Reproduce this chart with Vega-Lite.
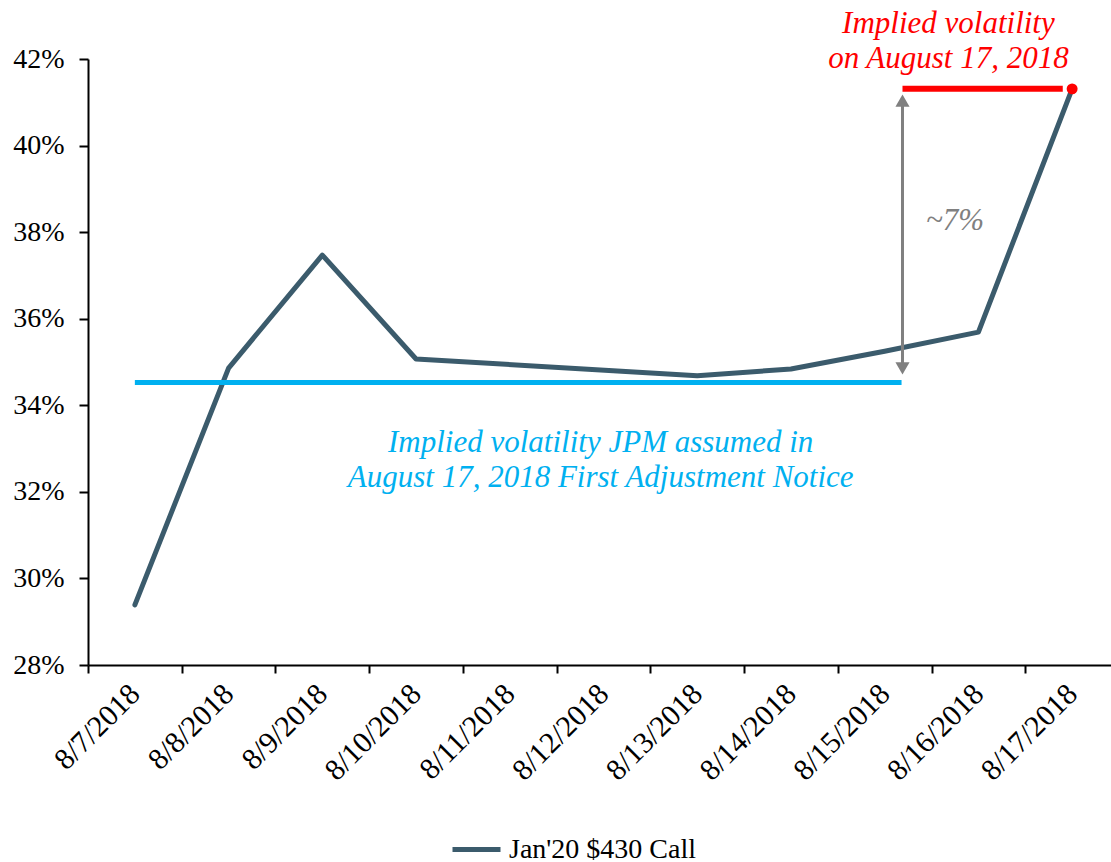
{
  "$schema": "https://vega.github.io/schema/vega-lite/v6.json",
  "width": 1031,
  "height": 606,
  "autosize": "none",
  "padding": {"left": 88, "top": 59, "right": 0, "bottom": 197},
  "background": "white",
  "config": {"font": "Liberation Serif", "view": {"stroke": null}},
  "datasets": {
    "main": [
      {"date": "8/7/2018", "iv": 0.2939, "series": "Jan'20 $430 Call"},
      {"date": "8/8/2018", "iv": 0.3486, "series": "Jan'20 $430 Call"},
      {"date": "8/9/2018", "iv": 0.3747, "series": "Jan'20 $430 Call"},
      {"date": "8/10/2018", "iv": 0.3507, "series": "Jan'20 $430 Call"},
      {"date": "8/13/2018", "iv": 0.3468, "series": "Jan'20 $430 Call"},
      {"date": "8/14/2018", "iv": 0.3484, "series": "Jan'20 $430 Call"},
      {"date": "8/15/2018", "iv": 0.3525, "series": "Jan'20 $430 Call"},
      {"date": "8/16/2018", "iv": 0.3569, "series": "Jan'20 $430 Call"},
      {"date": "8/17/2018", "iv": 0.4131, "series": "Jan'20 $430 Call"}
    ],
    "assumed": [{"x": 0.5, "x2": 8.68, "y": 0.34526}],
    "actual": [{"x": 8.69, "x2": 10.4, "y": 0.4131}],
    "arrow": [{"x": 8.69, "y": 0.3480, "y2": 0.4105}],
    "heads": [
      {"shape": "triangle-up", "x": 8.69, "y": 0.4104},
      {"shape": "triangle-down", "x": 8.69, "y": 0.3485}
    ],
    "dot": [{"x": 10.5, "y": 0.4131}],
    "labels": [
      {"text": "Implied volatility", "x": 9.18, "y": 0.4260, "group": "red"},
      {"text": "on August 17, 2018", "x": 9.18, "y": 0.4179, "group": "red"},
      {"text": "~7%", "x": 9.25, "y": 0.3805, "group": "gray"},
      {"text": "Implied volatility JPM assumed in", "x": 5.47, "y": 0.3292, "group": "cyan"},
      {"text": "August 17, 2018 First Adjustment Notice", "x": 5.47, "y": 0.3211, "group": "cyan"}
    ]
  },
  "layer": [
    {
      "data": {"name": "main"},
      "mark": {"type": "line", "strokeWidth": 5, "strokeCap": "round", "strokeJoin": "round"},
      "encoding": {
        "x": {
          "field": "date",
          "type": "ordinal",
          "sort": null,
          "bandPosition": 0.5,
          "scale": {
            "type": "band",
            "paddingInner": 0,
            "paddingOuter": 0,
            "domain": ["8/7/2018", "8/8/2018", "8/9/2018", "8/10/2018", "8/11/2018", "8/12/2018", "8/13/2018", "8/14/2018", "8/15/2018", "8/16/2018", "8/17/2018"]
          },
          "axis": {
            "title": null,
            "tickBand": "extent",
            "labelAngle": -45,
            "labelAlign": "right",
            "labelBaseline": "middle",
            "labelFontSize": 30,
            "labelColor": "black",
            "labelPadding": 16,
            "labelFont": "Liberation Serif",
            "labelOverlap": false,
            "labelLimit": 0,
            "tickSize": 8,
            "tickWidth": 2,
            "tickColor": "black",
            "domainColor": "black",
            "domainWidth": 2,
            "grid": false
          }
        },
        "y": {
          "field": "iv",
          "type": "quantitative",
          "scale": {"domain": [0.28, 0.42], "nice": false, "zero": false},
          "axis": {
            "title": null,
            "values": [0.28, 0.30, 0.32, 0.34, 0.36, 0.38, 0.40, 0.42],
            "format": ".0%",
            "labelFontSize": 28,
            "labelColor": "black",
            "labelFont": "Liberation Serif",
            "labelPadding": 15,
            "tickSize": 9,
            "tickWidth": 2,
            "tickColor": "black",
            "domainColor": "black",
            "domainWidth": 2,
            "grid": false
          }
        },
        "color": {
          "field": "series",
          "type": "nominal",
          "scale": {"range": ["#3B5B6C"]},
          "legend": {
            "title": null,
            "orient": "none",
            "legendX": 362,
            "legendY": 764,
            "symbolType": "stroke",
            "symbolSize": 2304,
            "symbolStrokeWidth": 5,
            "labelFontSize": 28,
            "labelFont": "Liberation Serif",
            "labelColor": "black",
            "labelOffset": 6,
            "labelLimit": 0
          }
        }
      }
    },
    {
      "data": {"name": "assumed"},
      "mark": {"type": "rule", "color": "#00B0F0", "strokeWidth": 5},
      "encoding": {
        "x": {"field": "x", "type": "quantitative", "scale": {"domain": [0, 11], "nice": false, "zero": false}, "axis": null},
        "x2": {"field": "x2"},
        "y": {"field": "y", "type": "quantitative"}
      }
    },
    {
      "data": {"name": "arrow"},
      "mark": {"type": "rule", "color": "#808080", "strokeWidth": 3},
      "encoding": {
        "x": {"field": "x", "type": "quantitative", "scale": {"domain": [0, 11], "nice": false, "zero": false}, "axis": null},
        "y": {"field": "y", "type": "quantitative"},
        "y2": {"field": "y2"}
      }
    },
    {
      "data": {"name": "heads"},
      "mark": {"type": "point", "filled": true, "size": 200, "color": "#808080", "opacity": 1},
      "encoding": {
        "x": {"field": "x", "type": "quantitative", "scale": {"domain": [0, 11], "nice": false, "zero": false}, "axis": null},
        "y": {"field": "y", "type": "quantitative"},
        "shape": {"field": "shape", "type": "nominal", "scale": null, "legend": null}
      }
    },
    {
      "data": {"name": "actual"},
      "mark": {"type": "rule", "color": "#FF0000", "strokeWidth": 6},
      "encoding": {
        "x": {"field": "x", "type": "quantitative", "scale": {"domain": [0, 11], "nice": false, "zero": false}, "axis": null},
        "x2": {"field": "x2"},
        "y": {"field": "y", "type": "quantitative"}
      }
    },
    {
      "data": {"name": "dot"},
      "mark": {"type": "point", "filled": true, "size": 120, "color": "#FF0000", "opacity": 1},
      "encoding": {
        "x": {"field": "x", "type": "quantitative", "scale": {"domain": [0, 11], "nice": false, "zero": false}, "axis": null},
        "y": {"field": "y", "type": "quantitative"}
      }
    },
    {
      "data": {"name": "labels"},
      "mark": {"type": "text", "font": "Liberation Serif", "fontStyle": "italic", "fontSize": 31, "align": "center", "baseline": "alphabetic"},
      "encoding": {
        "x": {"field": "x", "type": "quantitative", "scale": {"domain": [0, 11], "nice": false, "zero": false}, "axis": null},
        "y": {"field": "y", "type": "quantitative"},
        "text": {"field": "text"},
        "color": {
          "field": "group",
          "type": "nominal",
          "scale": {"domain": ["red", "gray", "cyan"], "range": ["#FF0000", "#808080", "#00B0F0"]},
          "legend": null
        }
      }
    }
  ],
  "resolve": {"scale": {"x": "independent", "color": "independent", "shape": "independent"}}
}
